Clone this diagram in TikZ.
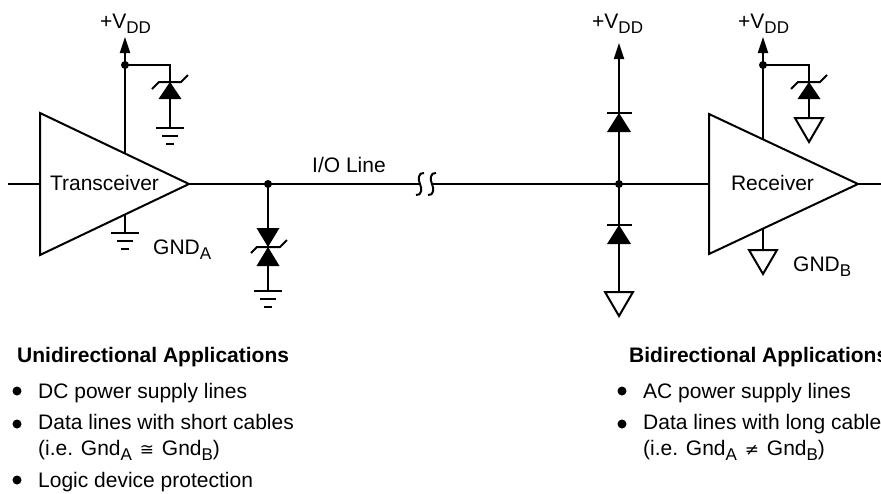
\documentclass[tikz,border=0pt]{standalone}
\usepackage{fontspec}
\setmainfont{Liberation Sans}
\newfontfamily\symfont{DejaVu Sans}
\usetikzlibrary{arrows.meta}
\newcommand{\sbs}[1]{\raisebox{-5pt}{\fontsize{17}{17}\selectfont #1}}
\newcommand{\symb}[1]{\hspace{2pt}{\symfont\fontsize{17}{17}\selectfont #1}\hspace{2pt}}
\begin{document}
\begin{tikzpicture}[x=1pt,y=-1pt,
  wire/.style={line width=2pt},
  amp/.style={line width=2pt, line join=miter},
  vtip/.style={-{Triangle[width=10pt,length=16pt]}},
  lbl/.style={anchor=base west, inner sep=0pt, font=\fontsize{21}{25}\selectfont},
  hd/.style={anchor=base west, inner sep=0pt, font=\fontsize{21}{25}\selectfont\bfseries},
  gndbars/.pic={\draw[line width=2pt] (-14,0)--(14,0) (-8,8)--(8,8) (-4,16)--(4,16);},
  gndtri/.pic={\draw[line width=2pt, line join=miter] (-14,0)--(14,0)--(0,24)--cycle;},
  zenerpic/.pic={\fill (0,0)--(-11.5,17)--(11.5,17)--cycle;
                 \draw[line width=2pt] (-18,7)--(-11,0)--(11,0)--(18,-7);},
  diodepic/.pic={\fill (0,0)--(-12,19)--(12,19)--cycle;
                 \draw[line width=2pt] (-12.5,0)--(12.5,0);},
  bizenerpic/.pic={\fill (0,0)--(-11.5,-19)--(11.5,-19)--cycle;
                   \fill (0,0)--(-11.5,19)--(11.5,19)--cycle;
                   \draw[line width=2pt] (-17,6)--(-11,0)--(12,0)--(19,-7);}
]
\useasboundingbox (0,0) rectangle (881,493);
\clip (0,0) rectangle (881,493);

% key points
\coordinate (in) at (8,184);
\coordinate (trxL) at (40,184);
\coordinate (trxT) at (189,184);
\coordinate (trxV) at (125,153.5);
\coordinate (trxG) at (125,214.5);
\coordinate (vddA) at (125,37);
\coordinate (jA) at (125,65);
\coordinate (zA) at (170,65);
\coordinate (zAk) at (170,82);
\coordinate (gA1) at (170,128);
\coordinate (gA2) at (125,233);
\coordinate (j1) at (268,184);
\coordinate (bz) at (268,247);
\coordinate (gA3) at (268,291);
\coordinate (brkL) at (419,184);
\coordinate (brkR) at (433,184);
\coordinate (j2) at (619,184);
\coordinate (vddB1) at (619,43);
\coordinate (d1) at (619,113);
\coordinate (d2) at (619,225);
\coordinate (gB1) at (619,292);
\coordinate (rxL) at (709,184);
\coordinate (rxT) at (858,184);
\coordinate (out) at (881,184);
\coordinate (rxV) at (763,139.4);
\coordinate (jB) at (763,65);
\coordinate (vddB2) at (763,37);
\coordinate (zB) at (809,65);
\coordinate (zBk) at (809,82);
\coordinate (gB2) at (809,118);
\coordinate (rxG) at (763,228.6);
\coordinate (gB3) at (763,250);

% transceiver
\draw[wire] (in) -- (trxL);
\draw[amp] (40,113) -- (trxT) -- (40,255) -- cycle;
\node[lbl, anchor=base] (trxtxt) at (104.5,190.5) {Transceiver};
\draw[wire, vtip] (trxV) -- (vddA);
\draw[wire] (jA) -- (zA) -- (gA1);
\pic at (zAk) {zenerpic};
\pic at (gA1) {gndbars};
\fill (jA) circle (4pt);
\draw[wire] (trxG) -- (gA2);
\pic at (gA2) {gndbars};
\node[lbl] (vA) at (100,28) {+V\sbs{DD}};
\node[lbl] (gndA) at (153,254) {GND\sbs{A}};

% I/O line
\draw[wire] (trxT) -- (brkL);
\draw[wire] (424,173) .. controls (418,172) and (418,180) .. (420,184)
                     .. controls (422,188) and (422,196) .. (416,195);
\draw[wire] (436,173) .. controls (430,172) and (430,180) .. (432,184)
                     .. controls (434,188) and (434,196) .. (428,195);
\draw[wire] (brkR) -- (rxL);
\node[lbl] (io) at (312,172) {I/O Line};
\draw[wire] (j1) -- (gA3);
\pic at (bz) {bizenerpic};
\pic at (gA3) {gndbars};
\fill (j1) circle (4pt);

% steering diodes
\draw[wire, vtip] (gB1) -- (vddB1);
\pic at (d1) {diodepic};
\pic at (d2) {diodepic};
\pic at (gB1) {gndtri};
\fill (j2) circle (4pt);
\node[lbl] (vB1) at (592,28) {+V\sbs{DD}};

% receiver
\draw[amp] (709,114) -- (rxT) -- (709,254) -- cycle;
\draw[wire] (rxT) -- (out);
\node[lbl, anchor=base] (rxtxt) at (772.5,190) {Receiver};
\draw[wire, vtip] (rxV) -- (vddB2);
\draw[wire] (jB) -- (zB) -- (gB2);
\pic at (zBk) {zenerpic};
\pic at (gB2) {gndtri};
\fill (jB) circle (4pt);
\draw[wire] (rxG) -- (gB3);
\pic at (gB3) {gndtri};
\node[lbl] (vB2) at (738,28) {+V\sbs{DD}};
\node[lbl] (gndB) at (793,271) {GND\sbs{B}};

% lists
\node[hd] (uni) at (17,362) {Unidirectional Applications};
\fill (17,391) circle (4.5pt);
\node[lbl] (u1) at (38,398) {DC power supply lines};
\fill (17,424) circle (4.5pt);
\node[lbl] (u2) at (38,429) {Data lines with short cables};
\node[lbl] (u3) at (38,455) {(i.e. Gnd\sbs{A} \symb{≅} Gnd\sbs{B})};
\fill (17,480) circle (4.5pt);
\node[lbl] (u4) at (38,487) {Logic device protection};

\node[hd] (bi) at (629,362) {Bidirectional Applications};
\fill (622,391) circle (4.5pt);
\node[lbl] (b1) at (643,398) {AC power supply lines};
\fill (622,424) circle (4.5pt);
\node[lbl] (b2) at (643,429) {Data lines with long cables};
\node[lbl] (b3) at (643,455) {(i.e. Gnd\sbs{A} \symb{≠} Gnd\sbs{B})};
\end{tikzpicture}
\end{document}
